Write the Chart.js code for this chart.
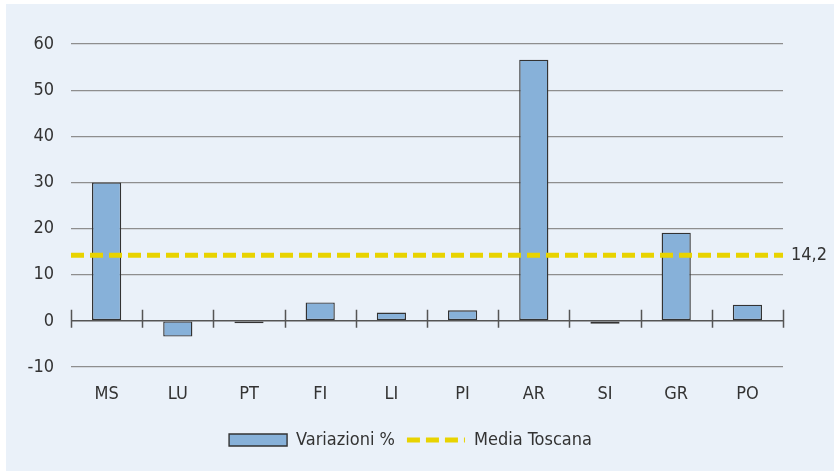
<!DOCTYPE html>
<html>
<head>
<meta charset="utf-8">
<script src="https://cdn.jsdelivr.net/npm/chart.js@4.4.1/dist/chart.umd.min.js"></script>
<style>
  html, body { margin: 0; padding: 0; background: #ffffff; }
  #wrap { width: 834px; height: 471px; position: relative; }
</style>
</head>
<body>
<div id="wrap"><canvas id="c" width="834" height="471"></canvas></div>
<script>
const categories = ['MS', 'LU', 'PT', 'FI', 'LI', 'PI', 'AR', 'SI', 'GR', 'PO'];
const variazioni = [30.0, -3.4, -0.5, 4.0, 1.8, 2.3, 56.6, -0.6, 19.1, 3.5];
const mediaToscana = 14.2;
const mediaLabel = '14,2';
const yTicks = [-10, 0, 10, 20, 30, 40, 50, 60];
const seriesNames = ['Variazioni %', 'Media Toscana'];

const FONT = "'DejaVu Sans Condensed', sans-serif";
const FSIZE = 18;
const TEXT = '#333333';

const bgPlugin = {
  id: 'bg',
  beforeDraw(chart) {
    const ctx = chart.ctx;
    ctx.save();
    ctx.fillStyle = '#eaf1f9';
    ctx.fillRect(6, 4, chart.width - 6, chart.height - 4);
    ctx.restore();
  }
};

const legendShift = {
  id: 'legendShift',
  afterLayout(chart) {
    if (chart.legend) { chart.legend.left += 12; }
  }
};

const axisPlugin = {
  id: 'zeroAxis',
  afterDatasetsDraw(chart) {
    const ctx = chart.ctx;
    const x = chart.scales.x, y = chart.scales.y;
    const y0 = y.getPixelForValue(0);
    const a = chart.chartArea;
    ctx.save();
    ctx.strokeStyle = '#555555';
    ctx.lineWidth = 1.5;
    ctx.beginPath();
    ctx.moveTo(a.left, y0);
    ctx.lineTo(a.right, y0);
    for (let i = 0; i <= categories.length; i++) {
      const px = Math.round(x.getPixelForValue(i - 0.5)) + 0.5;
      ctx.moveTo(px, y0 - 11);
      ctx.lineTo(px, y0 + 7);
    }
    ctx.stroke();
    const ym = y.getPixelForValue(mediaToscana);
    ctx.fillStyle = TEXT;
    ctx.font = FSIZE + "px " + FONT;
    ctx.textAlign = 'left';
    ctx.textBaseline = 'middle';
    ctx.fillText(mediaLabel, a.right + 8, ym);
    ctx.restore();
  }
};

new Chart(document.getElementById('c'), {
  type: 'bar',
  data: {
    labels: categories,
    datasets: [
      {
        type: 'bar',
        label: seriesNames[0],
        data: variazioni,
        backgroundColor: '#87b1d9',
        borderColor: '#333333',
        borderWidth: 1.4,
        borderSkipped: false,
        barPercentage: 0.41,
        categoryPercentage: 1.0,
        grouped: false,
        order: 1,
        xAxisID: 'x',
        yAxisID: 'y'
      },
      {
        type: 'line',
        label: seriesNames[1],
        data: [{x: 0, y: mediaToscana}, {x: categories.length, y: mediaToscana}],
        borderColor: '#e8d300',
        backgroundColor: '#e8d300',
        borderWidth: 5,
        borderDash: [13, 6],
        pointRadius: 0,
        fill: false,
        clip: false,
        order: 0,
        xAxisID: 'x2',
        yAxisID: 'y'
      }
    ]
  },
  options: {
    responsive: false,
    animation: false,
    layout: { padding: { left: 26, right: 51, top: 44, bottom: 12 } },
    scales: {
      x: {
        type: 'category',
        offset: true,
        grid: { display: false, drawTicks: false },
        border: { display: false },
        ticks: { color: TEXT, font: { family: FONT, size: FSIZE }, padding: 17 },
        afterFit(s) { s.height = 52; }
      },
      x2: {
        type: 'linear',
        display: false,
        offset: false,
        min: 0,
        max: categories.length
      },
      y: {
        min: -10,
        max: 60,
        afterBuildTicks(s) { s.ticks = yTicks.map(v => ({ value: v })); },
        grid: {
          color: (c) => (c.tick && c.tick.value === 0) ? 'rgba(0,0,0,0)' : '#8e8e8e',
          lineWidth: 1.2,
          drawTicks: false
        },
        border: { display: false },
        ticks: { color: TEXT, font: { family: FONT, size: FSIZE }, padding: 17 },
        afterFit(s) { s.width = 71 - 26; }
      }
    },
    plugins: {
      tooltip: { enabled: false },
      legend: {
        position: 'bottom',
        labels: {
          color: TEXT,
          font: { family: FONT, size: FSIZE },
          usePointStyle: true,
          pointStyleWidth: 58,
          boxHeight: 12,
          padding: 12,
          sort: (a, b) => a.datasetIndex - b.datasetIndex,
          generateLabels(chart) {
            const items = Chart.defaults.plugins.legend.labels.generateLabels(chart);
            items.forEach(it => {
              if (it.datasetIndex === 0) {
                it.pointStyle = 'rect';
                it.lineWidth = 1.4;
                it.strokeStyle = '#333333';
                it.fillStyle = '#87b1d9';
              } else {
                it.pointStyle = 'line';
                it.lineWidth = 5;
                it.strokeStyle = '#e8d300';
                it.lineDash = [13, 6];
              }
            });
            return items;
          }
        }
      }
    }
  },
  plugins: [bgPlugin, legendShift, axisPlugin]
});
</script>
</body>
</html>
